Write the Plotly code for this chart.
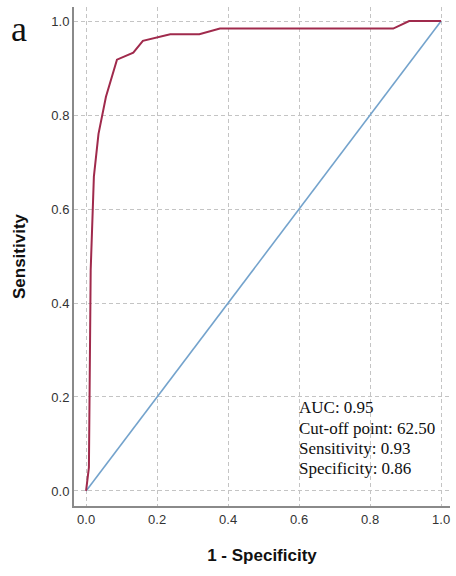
import plotly.graph_objects as go

# ROC curve points (1 - specificity, sensitivity)
roc_fpr = [0.0, 0.008, 0.013, 0.022, 0.035, 0.056, 0.087, 0.133, 0.16, 0.237, 0.319, 0.377, 0.865, 0.91, 1.0]
roc_tpr = [0.0, 0.05, 0.47, 0.669, 0.76, 0.839, 0.918, 0.933, 0.958, 0.972, 0.972, 0.984, 0.984, 1.0, 1.0]
ref_x = [0.0, 1.0]
ref_y = [0.0, 1.0]
tick_vals = [0.0, 0.2, 0.4, 0.6, 0.8, 1.0]
tick_text = ["0.0", "0.2", "0.4", "0.6", "0.8", "1.0"]
stats_lines = ["AUC: 0.95", "Cut-off point: 62.50", "Sensitivity: 0.93", "Specificity: 0.86"]

fig = go.Figure()
fig.add_trace(go.Scatter(x=ref_x, y=ref_y, mode="lines",
                         line=dict(color="#74a3cc", width=1.6), hoverinfo="skip"))
fig.add_trace(go.Scatter(x=roc_fpr, y=roc_tpr, mode="lines",
                         line=dict(color="#a02a4c", width=2), hoverinfo="skip"))

axis_common = dict(
    tickmode="array", tickvals=tick_vals, ticktext=tick_text,
    showgrid=True, gridcolor="#c4c4c4", griddash="4px,3px", gridwidth=1,
    zeroline=False, showline=True, linecolor="#8a8a8a", linewidth=2,
    tickfont=dict(family="Liberation Sans, Arial", size=13, color="#333333"),
    ticks="", mirror=False, automargin=False,
)
fig.update_xaxes(range=[-0.034, 1.025], title=dict(text="<b>1 - Specificity</b>",
                 font=dict(family="Liberation Sans, Arial", size=17, color="#111111"), standoff=24),
                 **axis_common)
fig.update_yaxes(range=[-0.032, 1.03], title=dict(text="<b>Sensitivity</b>",
                 font=dict(family="Liberation Sans, Arial", size=17, color="#111111"), standoff=21),
                 **axis_common)

# white box behind the statistics text
fig.add_shape(type="rect", xref="x", yref="y", x0=0.595, x1=1.015, y0=0.03, y1=0.2,
              fillcolor="white", line=dict(width=0), layer="below")
for i, line in enumerate(stats_lines):
    fig.add_annotation(x=0.598, y=0.199 - i * 0.0428, xref="x", yref="y",
                       xanchor="left", yanchor="top",
                       text=line, showarrow=False, align="left",
                       font=dict(family="Liberation Serif, Times New Roman", size=17, color="#111111"),
                       borderpad=0)
fig.add_annotation(x=-0.172, y=0.955, xref="paper", yref="paper", xanchor="left", yanchor="middle",
                   text="a", showarrow=False,
                   font=dict(family="Liberation Serif, Times New Roman", size=36, color="#111111"))

fig.update_layout(
    width=456, height=576,
    margin=dict(l=74, r=6, t=7, b=70, autoexpand=False),
    paper_bgcolor="white", plot_bgcolor="white",
    showlegend=False,
)
fig.write_html("out.html", config={"displayModeBar": False},
               post_script="document.body.style.margin='0';")
